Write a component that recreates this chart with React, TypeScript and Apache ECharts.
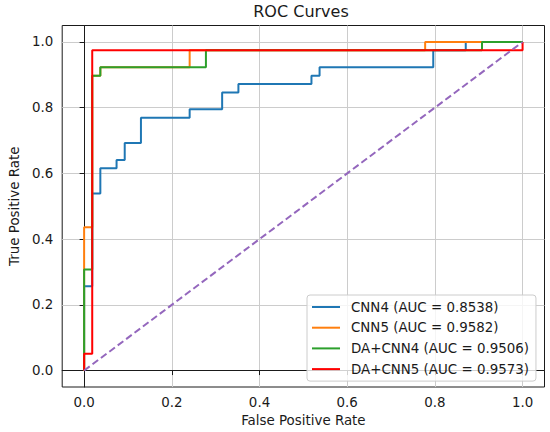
import React, { useEffect, useRef } from "react";
import * as echarts from "echarts";

// ---- data ----
const seriesNames = [
  "CNN4 (AUC = 0.8538)",
  "CNN5 (AUC = 0.9582)",
  "DA+CNN4 (AUC = 0.9506)",
  "DA+CNN5 (AUC = 0.9573)",
];
const seriesColors = ["#1f77b4", "#ff7f0e", "#2ca02c", "#ff0000"];

const cnn4Fpr = [0, 0, 0.0185, 0.0185, 0.037, 0.037, 0.074, 0.074, 0.0926, 0.0926, 0.1296, 0.1296, 0.2407, 0.2407, 0.3148, 0.3148, 0.3519, 0.3519, 0.5185, 0.5185, 0.537, 0.537, 0.7963, 0.7963, 0.8704, 0.8704, 1];
const cnn4Tpr = [0, 0.2564, 0.2564, 0.5385, 0.5385, 0.6154, 0.6154, 0.641, 0.641, 0.6923, 0.6923, 0.7692, 0.7692, 0.7949, 0.7949, 0.8462, 0.8462, 0.8718, 0.8718, 0.8974, 0.8974, 0.9231, 0.9231, 0.9744, 0.9744, 1, 1];

const cnn5Fpr = [0, 0, 0.0185, 0.0185, 0.037, 0.037, 0.2407, 0.2407, 0.7778, 0.7778, 1];
const cnn5Tpr = [0, 0.4359, 0.4359, 0.8974, 0.8974, 0.9231, 0.9231, 0.9744, 0.9744, 1, 1];

const daCnn4Fpr = [0, 0, 0.0185, 0.0185, 0.037, 0.037, 0.2778, 0.2778, 0.9074, 0.9074, 1];
const daCnn4Tpr = [0, 0.3077, 0.3077, 0.8974, 0.8974, 0.9231, 0.9231, 0.9744, 0.9744, 1, 1];

const daCnn5Fpr = [0, 0, 0.0185, 0.0185, 1, 1];
const daCnn5Tpr = [0, 0.0513, 0.0513, 0.9744, 0.9744, 1];

const chanceFpr = [0, 1];
const chanceTpr = [0, 1];

const tickValues = [0, 0.2, 0.4, 0.6, 0.8, 1.0];

const curves = [
  { fpr: cnn4Fpr, tpr: cnn4Tpr },
  { fpr: cnn5Fpr, tpr: cnn5Tpr },
  { fpr: daCnn4Fpr, tpr: daCnn4Tpr },
  { fpr: daCnn5Fpr, tpr: daCnn5Tpr },
];

const FONT = "DejaVu Sans";
const TEXT = "#1a1a1a";
const FS = 13.4;

function zip(xs: number[], ys: number[]) {
  return xs.map((x, i) => [x, ys[i]]);
}

export default function App() {
  const ref = useRef<HTMLDivElement>(null);

  useEffect(() => {
    document.body.style.margin = "0";
    if (!ref.current) return;
    const chart = echarts.init(ref.current, undefined, { renderer: "svg" });

    const axisCommon = {
      type: "value" as const,
      min: -0.05,
      max: 1.05,
      axisLine: { show: true, lineStyle: { color: TEXT, width: 1 } },
      axisTick: {
        show: true,
        length: 4.5,
        inside: false,
        customValues: tickValues,
        lineStyle: { color: TEXT, width: 1 },
      },
      axisLabel: {
        customValues: tickValues,
        formatter: (v: number) => v.toFixed(1),
        color: TEXT,
        fontFamily: FONT,
        fontSize: FS,
        margin: 9,
      },
      splitLine: { show: true, lineStyle: { color: "#cccccc", width: 1 } },
      nameLocation: "middle" as const,
      nameTextStyle: { color: TEXT, fontFamily: FONT, fontSize: FS },
    };

    const lineSeries = curves.map((c, i) => ({
      name: seriesNames[i],
      type: "line" as const,
      data: zip(c.fpr, c.tpr),
      showSymbol: false,
      symbol: "none",
      lineStyle: { color: seriesColors[i], width: 2 },
      itemStyle: { color: seriesColors[i] },
      z: 2 + i,
    }));

    chart.setOption({
      animation: false,
      title: {
        text: "ROC Curves",
        left: 301,
        top: 3,
        padding: 0,
        textAlign: "center",
        textStyle: { color: TEXT, fontFamily: FONT, fontSize: 16, fontWeight: "normal" },
      },
      grid: {
        left: 57.5,
        right: 5.5,
        top: 25.5,
        bottom: 45,
        show: true,
        borderColor: TEXT,
        borderWidth: 1,
        containLabel: false,
      },
      legend: {
        data: seriesNames,
        orient: "vertical",
        left: 307,
        top: 295,
        icon: "rect",
        itemWidth: 28,
        itemHeight: 2,
        itemGap: 6.7,
        padding: [5, 7, 5, 5],
        backgroundColor: "rgba(255,255,255,0.8)",
        borderColor: "#cccccc",
        borderWidth: 1,
        borderRadius: 3,
        textStyle: {
          color: TEXT,
          fontFamily: FONT,
          fontSize: FS,
          lineHeight: 14,
          padding: [0, 0, 0, 6],
        },
      },
      xAxis: {
        ...axisCommon,
        name: "False Positive Rate",
        nameGap: 27,
      },
      yAxis: {
        ...axisCommon,
        name: "True Positive Rate",
        nameGap: 40,
      },
      series: [
        ...lineSeries,
        {
          name: "chance",
          type: "line",
          data: zip(chanceFpr, chanceTpr),
          showSymbol: false,
          symbol: "none",
          lineStyle: { color: "#9467bd", width: 2, type: [7, 3.5] },
          z: 10,
        },
      ],
    });

    return () => chart.dispose();
  }, []);

  return <div ref={ref} style={{ width: 550, height: 432 }} />;
}
